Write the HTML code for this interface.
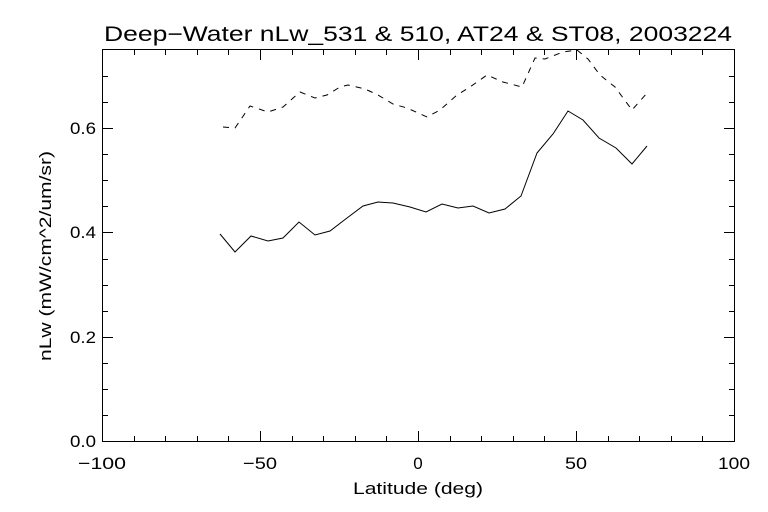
<!DOCTYPE html>
<html><head><meta charset="utf-8"><style>
html,body{margin:0;padding:0;background:#fff;}
svg{display:block;}
text{font-family:"Liberation Sans",sans-serif;fill:#000;}
</style></head><body>
<svg width="768" height="512" viewBox="0 0 768 512" xmlns="http://www.w3.org/2000/svg">
<rect width="768" height="512" fill="#fff"/>
<text x="418" y="41" font-size="21" text-anchor="middle" textLength="628" lengthAdjust="spacingAndGlyphs">Deep−Water nLw_531 &amp; 510, AT24 &amp; ST08, 2003224</text>
<rect x="102.5" y="49.5" width="632" height="392" fill="none" stroke="#000" stroke-width="1"/>
<g stroke="#000" stroke-width="1">
<path d="M102.5 441v-10M260.5 441v-10M418.5 441v-10M576.5 441v-10M734.5 441v-10
M102.5 50v10M260.5 50v10M418.5 50v10M576.5 50v10M734.5 50v10"/>
<path d="M134.5 441v-5M165.5 441v-5M197.5 441v-5M228.5 441v-5M292.5 441v-5M323.5 441v-5M355.5 441v-5M386.5 441v-5M450.5 441v-5M481.5 441v-5M513.5 441v-5M544.5 441v-5M608.5 441v-5M639.5 441v-5M671.5 441v-5M702.5 441v-5
M134.5 50v5M165.5 50v5M197.5 50v5M228.5 50v5M292.5 50v5M323.5 50v5M355.5 50v5M386.5 50v5M450.5 50v5M481.5 50v5M513.5 50v5M544.5 50v5M608.5 50v5M639.5 50v5M671.5 50v5M702.5 50v5"/>
<path d="M103 337.5h10M103 232.5h10M103 128.5h10M734 337.5h-10M734 232.5h-10M734 128.5h-10"/>
<path d="M103 415.5h5M103 389.5h5M103 363.5h5M103 311.5h5M103 285.5h5M103 259.5h5M103 206.5h5M103 180.5h5M103 154.5h5M103 102.5h5M103 76.5h5
M734 415.5h-5M734 389.5h-5M734 363.5h-5M734 311.5h-5M734 285.5h-5M734 259.5h-5M734 206.5h-5M734 180.5h-5M734 154.5h-5M734 102.5h-5M734 76.5h-5"/>
</g>
<g font-size="17" text-anchor="end">
<text x="96" y="447" textLength="26" lengthAdjust="spacingAndGlyphs">0.0</text>
<text x="96" y="343" textLength="26" lengthAdjust="spacingAndGlyphs">0.2</text>
<text x="96" y="238" textLength="26" lengthAdjust="spacingAndGlyphs">0.4</text>
<text x="96" y="134" textLength="26" lengthAdjust="spacingAndGlyphs">0.6</text>
</g>
<g font-size="17" text-anchor="middle">
<text x="102" y="469" textLength="48" lengthAdjust="spacingAndGlyphs">−100</text>
<text x="260" y="469" textLength="34" lengthAdjust="spacingAndGlyphs">−50</text>
<text x="418" y="469">0</text>
<text x="576" y="469" textLength="22" lengthAdjust="spacingAndGlyphs">50</text>
<text x="734" y="469" textLength="32" lengthAdjust="spacingAndGlyphs">100</text>
</g>
<text x="418" y="494" font-size="17" text-anchor="middle" textLength="130" lengthAdjust="spacingAndGlyphs">Latitude (deg)</text>
<text transform="translate(51 256) rotate(-90)" font-size="17" text-anchor="middle" textLength="210" lengthAdjust="spacingAndGlyphs">nLw (mW/cm^2/um/sr)</text>
<polyline fill="none" stroke="#000" stroke-width="1" points="220,234 235,252 251,236 268,241 283,238 299,222 315,235 330,231 347,218 363,206 378,202 393,203 410,207 426,212 442,204 458,208 473,206 489,213 505,209 521,196 537,153 553,134 568,111 583,120 599,138 616,148 632,164 647,146"/>
<polyline fill="none" stroke="#000" stroke-width="1" stroke-dasharray="6,6" points="223,127 235,128 250,106 268,112 283,107 300,92 315,98 327,95 340,87 348,85 365,89 378,95 393,104 407,108 427,117 440,110 457,95 470,87 487,75 503,82 522,87 535,58 545,59 563,52 577,50 588,59 600,75 615,87 632,110 647,93"/>
</svg>
</body></html>
